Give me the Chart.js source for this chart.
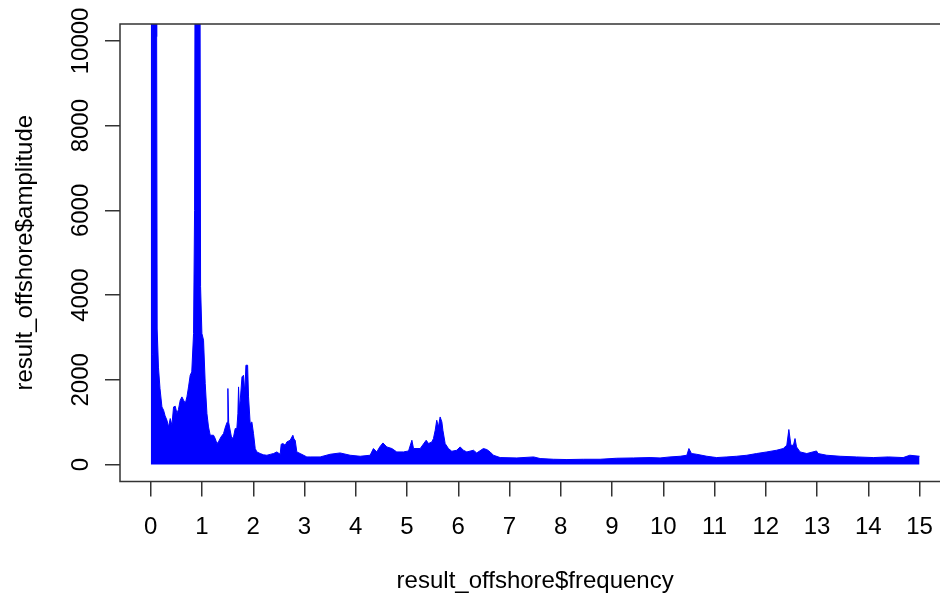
<!DOCTYPE html>
<html><head><meta charset="utf-8">
<script src="https://cdn.jsdelivr.net/npm/chart.js@4/dist/chart.umd.min.js"></script>
<style>
html,body{margin:0;padding:0;background:#fff;overflow:hidden;}
#wrap{width:940px;height:599px;overflow:hidden;position:relative;background:#fff;}
canvas{display:block;}
</style></head><body>
<div id="wrap"><canvas id="c" width="960" height="599" style="width:960px;height:599px"></canvas></div>
<script>
// Upper envelope of the spectrum
const frequency = [
 0.000,0.022,0.028,0.036,0.105,0.115,0.125,0.15,0.18,0.218,0.25,0.28,0.316,0.347,0.38,0.413,0.445,0.478,0.511,0.54,
 0.575,0.608,0.64,0.675,0.706,0.737,0.77,0.80,0.835,0.855,0.868,0.885,0.895,0.91,0.958,0.972,0.998,1.03,1.063,1.096,
 1.127,1.16,1.225,1.258,1.29,1.32,1.37,1.42,1.457,1.49,1.505,1.52,1.537,1.58,1.615,1.648,1.68,1.70,1.713,1.73,
 1.746,1.78,1.81,1.835,1.857,1.89,1.908,1.94,1.973,2.005,2.038,2.07,2.136,2.2,2.266,2.33,2.395,2.46,2.525,2.545,
 2.578,2.623,2.656,2.72,2.773,2.795,2.818,2.85,2.916,3.046,3.11,3.306,3.5,3.695,3.89,4.086,4.28,4.345,4.41,4.47,
 4.53,4.606,4.704,4.8,4.93,5.03,5.095,5.127,5.257,5.374,5.42,5.485,5.516,5.55,5.58,5.613,5.646,5.68,5.70,5.744,
 5.808,5.874,5.97,6.037,6.1,6.167,6.296,6.36,6.49,6.557,6.622,6.686,6.817,7.142,7.47,7.597,7.857,8.12,8.445,8.767,
 9.09,9.417,9.742,9.937,10.13,10.33,10.46,10.5,10.55,10.65,10.85,11.04,11.24,11.43,11.63,11.82,12.02,12.21,12.34,12.41,
 12.45,12.49,12.54,12.57,12.6,12.67,12.8,12.99,13.02,13.19,13.45,13.77,14.1,14.39,14.68,14.81,15.0
];
const amplitude = [
 14000,14000,2600,14000,14000,10100,3200,2300,1800,1360,1283,1150,1046,888,1086,928,1360,1377,1204,1300,
 1519,1597,1519,1450,1597,1833,2109,2187,3094,6000,14000,14000,7500,14000,14000,4200,3094,2936,1913,1204,
 888,692,692,614,496,535,650,732,888,1000,1795,1000,888,614,652,850,850,1200,1833,1300,
 1519,2069,2109,1700,2345,2345,1597,968,1006,732,378,298,260,230,220,240,260,298,243,480,
 496,456,535,574,692,600,574,298,260,180,180,180,243,274,220,196,220,378,298,420,
 510,416,378,298,298,321,574,378,378,574,496,535,614,810,1046,888,1124,1006,810,496,
 378,314,338,416,338,298,338,274,378,354,298,220,165,156,180,142,125,118,125,125,
 149,156,165,156,180,196,220,378,260,243,196,165,180,196,220,260,298,338,378,456,
 827,456,456,614,416,298,260,321,260,220,196,180,165,180,165,220,196
];
const xTickValues = [0,1,2,3,4,5,6,7,8,9,10,11,12,13,14,15];
const yTickValues = [0,2000,4000,6000,8000,10000];
const xTitle = 'result_offshore$frequency';
const yTitle = 'result_offshore$amplitude';

const FONT = {family:'"Liberation Sans", Arial, sans-serif', size:24};
const AXIS_COLOR = '#333';

const boxPlugin = {
  id:'box',
  afterDraw(chart){
    const {ctx, chartArea:a} = chart;
    ctx.save();
    ctx.strokeStyle = AXIS_COLOR;
    ctx.lineWidth = 1.5;
    ctx.strokeRect(a.left, a.top, a.right - a.left, a.bottom - a.top);
    ctx.restore();
  }
};

new Chart(document.getElementById('c'), {
  type:'line',
  data:{
    datasets:[{
      data: frequency.map((f,i)=>({x:f, y:amplitude[i]})),
      borderColor:'#0000FF',
      backgroundColor:'#0000FF',
      borderWidth:1,
      fill:'origin',
      pointRadius:0,
      tension:0
    }]
  },
  options:{
    responsive:false,
    animation:false,
    devicePixelRatio:1,
    layout:{padding:{top:24,right:9.7,left:0,bottom:0}},
    plugins:{legend:{display:false},tooltip:{enabled:false}},
    scales:{
      x:{
        type:'linear', min:-0.6, max:15.6,
        afterBuildTicks:s=>{s.ticks = xTickValues.map(v=>({value:v}));},
        afterFit:s=>{s.height = 117.5;},
        grid:{drawOnChartArea:false, drawTicks:true, tickLength:15, color:AXIS_COLOR, lineWidth:1.5},
        border:{display:false},
        ticks:{autoSkip:false, minRotation:0, maxRotation:0, padding:16.1, color:'#000', font:FONT, callback:v=>String(v)},
        title:{display:true, text:xTitle, color:'#000', font:FONT, padding:{top:0,bottom:2.9}}
      },
      y:{
        type:'linear', min:-400, max:10400,
        afterBuildTicks:s=>{s.ticks = yTickValues.map(v=>({value:v}));},
        afterFit:s=>{s.width = 120;},
        grid:{drawOnChartArea:false, drawTicks:true, tickLength:15, color:AXIS_COLOR, lineWidth:1.5},
        border:{display:false},
        ticks:{autoSkip:false, minRotation:90, maxRotation:90, crossAlign:'center', padding:-10.1, color:'#000', font:FONT, callback:v=>String(v)},
        title:{display:true, text:yTitle, color:'#000', font:FONT, padding:{top:10.6,bottom:0}}
      }
    }
  },
  plugins:[boxPlugin]
});
</script>
</body></html>
